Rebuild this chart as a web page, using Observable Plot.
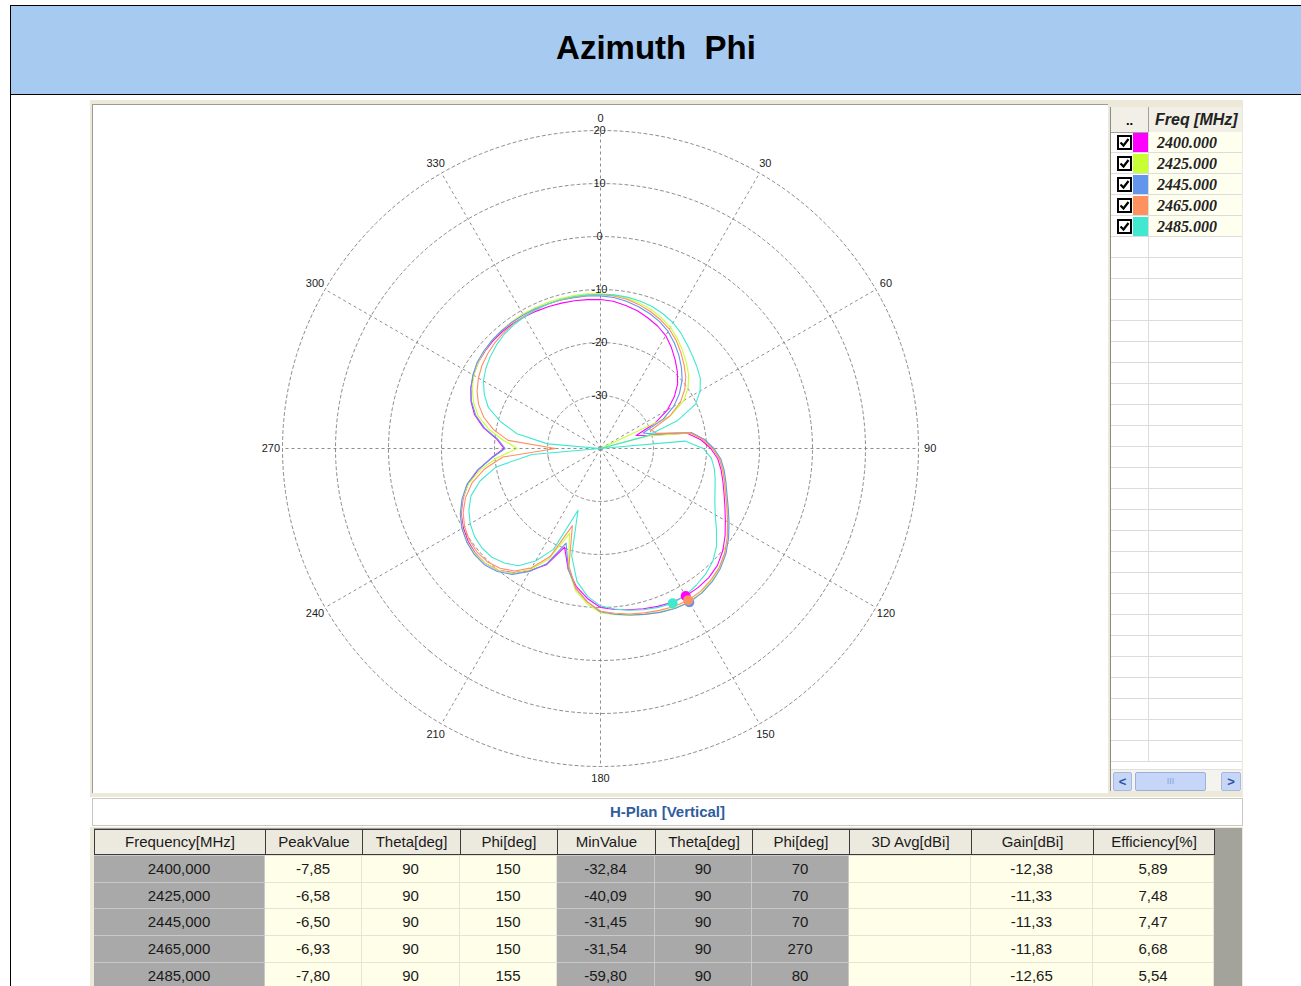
<!DOCTYPE html>
<html><head><meta charset="utf-8">
<script src="https://cdn.jsdelivr.net/npm/d3@7"></script>
<script src="https://cdn.jsdelivr.net/npm/@observablehq/plot@0.6"></script>
<style>
html,body{margin:0;padding:0;background:#fff;}
body{width:1301px;height:986px;position:relative;overflow:hidden;font-family:"Liberation Sans",Arial,sans-serif;}
.abs{position:absolute;box-sizing:border-box;}
#title{left:11px;top:6px;width:1290px;height:88px;line-height:84px;text-align:center;font-weight:bold;font-size:33px;white-space:pre;color:#000;}
.lg-row{position:absolute;left:0;width:132px;height:21px;border-bottom:1px solid #dcdcdc;box-sizing:border-box;}
.lg-txt{position:absolute;left:46px;top:0;font-family:"Liberation Serif","Times New Roman",serif;font-weight:bold;font-style:italic;font-size:16px;line-height:21px;color:#222;}
.cell{position:absolute;box-sizing:border-box;text-align:center;font-size:15px;color:#1a1a1a;}
</style></head>
<body>
<div class="abs" style="left:10px;top:5px;width:1291px;height:981px;border-left:1px solid #000;border-top:1px solid #000;"></div>
<div class="abs" style="left:11px;top:6px;width:1290px;height:89px;background:#a6caf0;border-bottom:1px solid #000;"></div>
<div class="abs" id="title">Azimuth  Phi</div>

<div class="abs" style="left:90px;top:100px;width:1153px;height:697px;background:#ece9d8;"></div>
<div class="abs" style="left:92px;top:104px;width:1016px;height:689px;background:#fff;box-shadow:inset 1px 1px 0 #9a9a9a;"></div>
<div class="abs" id="chart" style="left:92px;top:104px;width:1016px;height:689px;"></div>

<div class="abs" id="legend" style="left:1110px;top:107px;width:132px;height:684px;background:#fff;border-left:1px solid #8a8a8a;overflow:hidden;"></div>

<div class="abs" style="left:92px;top:798px;width:1151px;height:28px;background:#fff;border:1px solid #c8c8c0;"></div>
<div class="abs" id="hplan" style="left:92px;top:798px;width:1151px;height:28px;line-height:27px;text-align:center;font-weight:bold;font-size:15px;color:#2f5d9e;">H-Plan [Vertical]</div>

<div class="abs" style="left:90px;top:827px;width:1153px;height:159px;background:#ece9d8;"></div>
<div class="abs" style="left:94px;top:828px;width:1148px;height:158px;background:#a3a39b;"></div>
<div class="abs" id="table" style="left:0;top:0;width:1301px;height:986px;"></div>

<script>
// ---------------- data ----------------
const freqs = ["2400.000", "2425.000", "2445.000", "2465.000", "2485.000"];
const colors = ["#ff00ff", "#c8ff32", "#6495ed", "#ff9060", "#40e8d0"];
const phi = [0,5,10,15,20,25,30,35,40,45,50,55,60,65,70,75,80,85,90,95,100,105,110,115,120,125,130,135,140,145,150,155,160,165,170,175,180,185,190,195,200,205,210,215,220,225,230,235,240,245,250,255,260,265,270,275,280,285,290,295,300,305,310,315,320,325,330,335,340,345,350,355];
const f2400 = [-11.9,-12.1,-12.6,-13.1,-13.8,-14.5,-15.4,-16.7,-18.1,-19.5,-21.0,-23.0,-25.4,-28.6,-32.84,-30.3,-23.4,-21.0,-19.2,-17.8,-16.9,-16.1,-15.2,-14.1,-12.8,-11.3,-9.9,-8.8,-8.2,-7.95,-7.85,-8.0,-8.3,-8.7,-9.1,-9.5,-10.0,-11.6,-13.6,-16.4,-20.2,-15.8,-13.4,-11.4,-10.0,-9.3,-9.2,-9.5,-10.1,-11.0,-12.4,-14.1,-16.5,-19.3,-21.8,-20.4,-17.6,-15.4,-14.0,-13.0,-12.3,-11.8,-11.5,-11.3,-11.2,-11.2,-11.3,-11.4,-11.5,-11.6,-11.7,-11.8];
const f2425 = [-10.8,-10.9,-11.2,-11.6,-12.1,-12.8,-13.6,-14.7,-15.9,-17.1,-18.3,-19.8,-21.8,-25.5,-40.09,-31.0,-23.0,-20.5,-18.8,-17.4,-16.5,-15.7,-14.8,-13.6,-12.2,-10.7,-9.3,-8.2,-7.4,-6.8,-6.58,-6.8,-7.2,-7.6,-8.0,-8.5,-9.0,-10.6,-12.8,-16.5,-23.0,-17.0,-13.6,-11.3,-10.0,-9.3,-9.1,-9.3,-9.9,-10.9,-12.3,-14.2,-17.0,-20.5,-24.3,-21.5,-18.5,-16.1,-14.5,-13.3,-12.4,-11.8,-11.4,-11.1,-10.9,-10.8,-10.7,-10.7,-10.7,-10.7,-10.7,-10.7];
const f2445 = [-11.2,-11.4,-11.8,-12.3,-12.9,-13.6,-14.5,-15.7,-17.0,-18.4,-19.9,-21.8,-24.0,-27.0,-31.45,-29.5,-22.6,-20.3,-18.6,-17.2,-16.3,-15.5,-14.6,-13.4,-12.0,-10.5,-9.1,-8.0,-7.2,-6.7,-6.50,-6.7,-7.1,-7.6,-8.1,-8.6,-9.2,-11.0,-13.2,-16.5,-21.0,-16.0,-13.2,-11.0,-9.7,-9.0,-8.9,-9.2,-9.8,-10.8,-12.2,-13.9,-16.4,-19.4,-22.0,-20.6,-17.8,-15.6,-14.1,-13.0,-12.2,-11.6,-11.3,-11.1,-11.0,-10.9,-10.9,-10.9,-11.0,-11.0,-11.1,-11.1];
const f2465 = [-11.0,-11.1,-11.4,-11.9,-12.5,-13.2,-14.0,-15.1,-16.4,-17.7,-19.0,-20.6,-22.6,-25.6,-29.8,-29.0,-22.8,-20.6,-18.9,-17.5,-16.6,-15.8,-14.9,-13.7,-12.3,-10.8,-9.4,-8.3,-7.6,-7.1,-6.93,-7.1,-7.5,-7.9,-8.3,-8.8,-9.3,-11.0,-13.2,-17.0,-24.5,-17.5,-14.0,-11.8,-10.5,-9.8,-9.6,-9.8,-10.4,-11.4,-12.9,-14.9,-17.8,-21.5,-31.54,-22.5,-19.5,-17.2,-15.5,-14.3,-13.4,-12.7,-12.2,-11.8,-11.5,-11.3,-11.2,-11.1,-11.0,-11.0,-11.0,-11.0];
const f2485 = [-10.9,-10.9,-11.0,-11.2,-11.5,-12.0,-12.6,-13.5,-14.5,-15.4,-16.2,-17.0,-18.3,-20.2,-24.5,-31.0,-59.8,-24.0,-20.6,-19.0,-18.2,-17.6,-17.0,-16.2,-15.0,-13.3,-11.4,-10.0,-9.1,-8.5,-8.0,-7.8,-8.1,-8.5,-9.0,-9.6,-10.3,-12.0,-14.5,-19.0,-27.6,-19.0,-15.5,-13.0,-11.8,-11.0,-10.8,-11.0,-11.6,-12.6,-14.0,-16.5,-20.0,-27.0,-45.0,-30.0,-24.0,-20.5,-17.5,-15.8,-14.5,-13.6,-12.9,-12.3,-11.8,-11.5,-11.3,-11.1,-11.0,-10.9,-10.9,-10.9];
const series = [f2400, f2425, f2445, f2465, f2485];

const ringVals = [20, 10, 0, -10, -20, -30];
const spokeAngles = [0, 30, 60, 90, 120, 150, 180, 210, 240, 270, 300, 330];
const rMin = -40, rMax = 20;

// table (from the grid below the chart)
const tblHead = ["Frequency[MHz]", "PeakValue", "Theta[deg]", "Phi[deg]", "MinValue", "Theta[deg]", "Phi[deg]", "3D Avg[dBi]", "Gain[dBi]", "Efficiency[%]"];
const tFreq = ["2400,000", "2425,000", "2445,000", "2465,000", "2485,000"];
const tPeak = ["-7,85", "-6,58", "-6,50", "-6,93", "-7,80"];
const tPeakTheta = ["90", "90", "90", "90", "90"];
const tPeakPhi = ["150", "150", "150", "150", "155"];
const tMin = ["-32,84", "-40,09", "-31,45", "-31,54", "-59,80"];
const tMinTheta = ["90", "90", "90", "90", "90"];
const tMinPhi = ["70", "70", "70", "270", "80"];
const tAvg = ["", "", "", "", ""];
const tGain = ["-12,38", "-11,33", "-11,33", "-11,83", "-12,65"];
const tEff = ["5,89", "7,48", "7,47", "6,68", "5,54"];

// ---------------- polar chart ----------------
const lonOf = p => 180 - p;
const latOf = v => 90 - (Math.max(v, rMin) - rMin);

const rows = [];
series.forEach((s, i) => {
  phi.forEach((p, j) => rows.push({freq: freqs[i], phi: p, v: s[j]}));
  rows.push({freq: freqs[i], phi: 360, v: s[0]});
});
const peaks = freqs.map((f, i) => ({freq: f, phi: +tPeakPhi[i], v: parseFloat(tPeak[i].replace(",", "."))}));

// frame: domain circle of 64 units so the outer labels are not clipped; 5.3 px per dB
const domainR = 64, pxPerUnit = 5.3;
const W = 1016, H = 689, cy = 344;
const mTop = cy - domainR * pxPerUnit;
const mBottom = H - mTop - 2 * domainR * pxPerUnit;

const gridColor = "#808080";
const chart = Plot.plot({
  width: W, height: H,
  marginTop: mTop, marginBottom: mBottom, marginLeft: 0, marginRight: 0,
  projection: {
    type: "azimuthal-equidistant", rotate: [0, -90], inset: 0,
    domain: d3.geoCircle().center([0, 90]).radius(domainR).precision(1)()
  },
  color: {domain: freqs, range: colors},
  style: {background: "transparent", fontFamily: "'Liberation Sans', Arial, sans-serif", fontSize: "11px"},
  marks: [
    Plot.geo(ringVals, {geometry: v => d3.geoCircle().center([0, 90]).radius(v - rMin).precision(1)(), stroke: gridColor, strokeWidth: 0.9, strokeDasharray: "3,3", fill: "none"}),
    Plot.link(spokeAngles, {x1: a => lonOf(a), y1: () => 90, x2: a => lonOf(a), y2: () => latOf(rMax), stroke: gridColor, strokeWidth: 0.9, strokeDasharray: "3,3"}),
    Plot.text(ringVals, {x: () => lonOf(0), y: v => latOf(v), text: v => String(v), fill: "#222", dx: -1}),
    Plot.text(spokeAngles, {x: a => lonOf(a), y: () => latOf(22.2), text: a => String(a), fill: "#222"}),
    Plot.line(rows, {x: d => lonOf(d.phi), y: d => latOf(d.v), z: "freq", stroke: "freq", strokeWidth: 1.1, curve: "linear"}),
    Plot.dot(peaks, {x: d => lonOf(d.phi), y: d => latOf(d.v), fill: "freq", r: 5})
  ]
});
document.getElementById("chart").appendChild(chart);

// ---------------- legend grid ----------------
const lg = document.getElementById("legend");
const hdr = document.createElement("div");
hdr.style.cssText = "position:absolute;left:0;top:0;width:132px;height:25px;background:#f1efe6;border-bottom:1px solid #a0a0a0;";
hdr.innerHTML = '<div style="position:absolute;left:0;top:0;width:37px;height:25px;border-right:1px solid #a0a0a0;text-align:center;font-weight:bold;font-size:13px;line-height:28px;">..</div>' +
  '<div style="position:absolute;left:44px;top:0;height:25px;line-height:25px;font-weight:bold;font-style:italic;font-size:16px;color:#222;">Freq [MHz]</div>';
lg.appendChild(hdr);
for (let k = 0; k < 30; k++) {
  const r = document.createElement("div");
  r.className = "lg-row";
  r.style.top = (25 + k * 21) + "px";
  let inner = '<div style="position:absolute;left:37px;top:0;width:1px;height:21px;background:#dcdcdc;"></div>';
  if (k < freqs.length) {
    inner += '<div style="position:absolute;left:38px;top:0;width:94px;height:20px;background:#fffff0;"></div>';
    inner += '<svg style="position:absolute;left:6px;top:3px" width="15" height="15"><rect x="1" y="1" width="13" height="13" fill="#fff" stroke="#000" stroke-width="2"/><path d="M3.5 7.5 L6.5 10.5 L11.5 4" stroke="#000" stroke-width="2.2" fill="none"/></svg>';
    inner += '<div style="position:absolute;left:22px;top:1px;width:15px;height:19px;background:' + colors[k] + ';"></div>';
    inner += '<div class="lg-txt">' + freqs[k] + '</div>';
  }
  r.innerHTML = inner;
  lg.appendChild(r);
}
const sb = document.createElement("div");
sb.style.cssText = "position:absolute;left:0;top:662px;width:132px;height:22px;background:#f4f3ee;border-top:1px solid #e0e0e0;";
sb.innerHTML = '<div style="position:absolute;left:2px;top:2px;width:17px;height:17px;background:#c6d6f6;border:1px solid #a8b8e0;border-radius:2px;color:#3050a0;font-weight:bold;font-size:13px;line-height:17px;text-align:center;">&lt;</div>' +
  '<div style="position:absolute;left:24px;top:2px;width:69px;height:17px;background:#c6d6f8;border:1px solid #9cb0e0;border-radius:2px;color:#8aa0d8;font-size:9px;line-height:17px;text-align:center;">III</div>' +
  '<div style="position:absolute;left:110px;top:2px;width:18px;height:17px;background:#c6d6f6;border:1px solid #a8b8e0;border-radius:2px;color:#3050a0;font-weight:bold;font-size:13px;line-height:17px;text-align:center;">&gt;</div>';
lg.appendChild(sb);

// ---------------- table ----------------
const colX = [94, 265, 362, 460, 557, 655, 752, 849, 971, 1093, 1214];
const colFill = ["#a9a9a9", "#fffee9", "#fffee9", "#fffee9", "#a9a9a9", "#a9a9a9", "#a9a9a9", "#fffee9", "#fffee9", "#fffee9"];
const colSep = ["#c9c9c9", "#e6e4d4", "#e6e4d4", "#e6e4d4", "#c9c9c9", "#c9c9c9", "#c9c9c9", "#e6e4d4", "#e6e4d4", "#e6e4d4"];
const cols = [tFreq, tPeak, tPeakTheta, tPeakPhi, tMin, tMinTheta, tMinPhi, tAvg, tGain, tEff];
const tb = document.getElementById("table");
const headTop = 829, headH = 26, rowTop = 855, rowH = 26.7;
let html = "";
tblHead.forEach((h, c) => {
  html += '<div class="cell" style="left:' + colX[c] + 'px;top:' + headTop + 'px;width:' + (colX[c + 1] - colX[c] + 1) + 'px;height:' + headH + 'px;line-height:' + (headH - 2) + 'px;background:#ece9df;border:1px solid #3a3a3a;">' + h + '</div>';
});
cols.forEach((col, c) => {
  col.forEach((v, r) => {
    const top = rowTop + r * rowH;
    html += '<div class="cell" style="left:' + colX[c] + 'px;top:' + top + 'px;width:' + (colX[c + 1] - colX[c]) + 'px;height:' + rowH + 'px;line-height:' + rowH + 'px;background:' + colFill[c] + ';border-top:1px solid ' + colSep[c] + ';border-right:1px solid ' + colSep[c] + ';">' + v + '</div>';
  });
});
tb.innerHTML = html;
</script>
</body></html>
